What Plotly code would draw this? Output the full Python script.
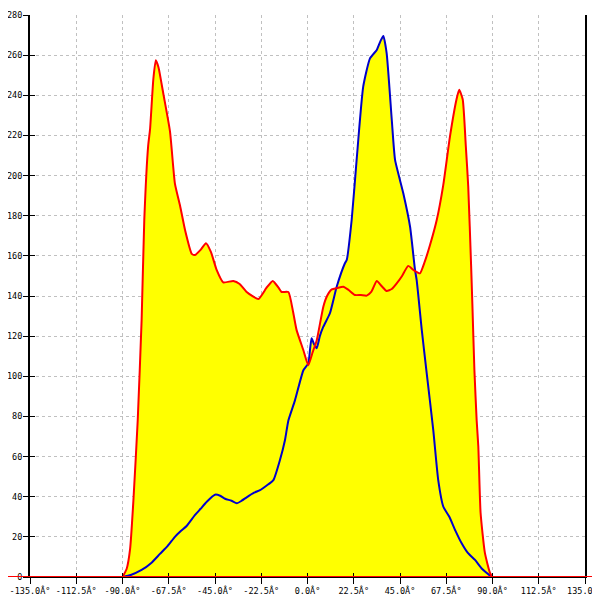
import plotly.graph_objects as go

# angle (deg) / value pairs
red_angle = [-90, -88, -86.3, -84.7, -82.6, -80.7, -79.4, -77.5, -76.6, -75, -73.8, -72.5, -70,
             -66.9, -64.5, -62, -59.6, -56.3, -54.7, -52, -49.4, -47, -44.2, -41, -36.1, -33,
             -29.6, -23.9, -20, -16.9, -14, -12.6, -9.3, -7, -5.3, -2, 0.4, 2.5, 4.5, 7.7, 9.5,
             11.8, 14.5, 17.4, 20, 23.1, 26, 28.8, 31, 33.7, 36, 38.5, 41, 43.4, 46, 49, 51.5,
             54.7, 57, 59.6, 62.9, 66, 69.3, 72.5, 73.8, 75.5, 77, 78.2, 79.6, 80.2, 81.2, 82.3,
             83.1, 84.2, 86.3, 88.8, 90]
red_vals = [0, 4, 14, 38, 78, 128, 178, 215, 223, 248, 257.5, 254, 240,
            222, 196, 185, 173, 161, 160.4, 163, 166.3, 162, 153, 146.8, 147.5, 146,
            142, 138.5, 144, 147.5, 144, 142, 142, 132, 123, 113, 105.5, 112, 118, 134.7, 140,
            143.3, 144, 144.6, 143, 140.5, 140.5, 140.2, 142, 147.5, 145, 142.5, 143.5, 146.3, 150, 155, 153,
            151.3, 157, 165.4, 178, 195, 219.4, 238, 242.7, 238, 215, 194.5, 155, 136, 103, 78,
            65, 32, 12, 2, 0]

blue_angle = [-90, -86, -80.7, -76, -71.8, -68, -64.5, -61.5, -58.8, -54.7, -52, -49, -45, -42.5,
              -40.1, -37, -34.4, -32, -29.6, -26, -23.1, -20, -16.6, -13.4, -11, -9.3, -6.1, -2,
              0.4, 1.3, 2, 3.2, 4.5, 6, 7.7, 10.9, 14.2, 18.2, 19.1, 21.5, 23.9, 27.1, 30.4, 33.7,
              35.5, 36.9, 38.5, 41, 42.6, 46.6, 49.9, 52.3, 53.1, 55.6, 58, 61.2, 63.6, 66.1, 69,
              72, 75, 78, 81.5, 85, 89.6]
blue_vals = [0, 1, 3.5, 7, 11.5, 15.5, 20, 23, 25.4, 30.9, 34, 37.5, 41, 40.5,
             39, 38, 36.7, 38, 39.7, 42, 43.3, 45.5, 48.3, 58.3, 68, 78, 88, 103,
             106.5, 114, 118.9, 116, 114, 120, 124.7, 131.4, 144.6, 156.3, 158, 178, 207.8, 244.3, 258.4, 262.6,
             267, 269.6, 261, 227.7, 207.8, 191.2, 174.5, 153, 148, 123, 101.5, 73, 48.3, 35, 30,
             23, 16.8, 12, 8.5, 4, 0]

x_ticks = [-135 + 22.5 * i for i in range(13)]
x_labels = [f"{v:.1f}Â°" for v in x_ticks]
y_ticks = list(range(0, 281, 20))

fig = go.Figure()

# yellow fills first, so both lines stay visible on top
fig.add_trace(go.Scatter(x=blue_angle, y=blue_vals, mode="none", fill="tozeroy",
                         fillcolor="#ffff00", hoverinfo="skip", showlegend=False))
fig.add_trace(go.Scatter(x=red_angle, y=red_vals, mode="none", fill="tozeroy",
                         fillcolor="#ffff00", hoverinfo="skip", showlegend=False))
fig.add_trace(go.Scatter(x=blue_angle, y=blue_vals, mode="lines", line_shape="spline",
                         line=dict(color="#0000cc", width=2, smoothing=0.5), showlegend=False))
fig.add_trace(go.Scatter(x=red_angle, y=red_vals, mode="lines", line_shape="spline",
                         line=dict(color="#ff0000", width=2, smoothing=0.5), showlegend=False))
# dummy trace so the overlay axes (inner tick halves) get drawn
fig.add_trace(go.Scatter(x=[0], y=[0], xaxis="x2", yaxis="y2", mode="markers",
                         marker=dict(opacity=0), hoverinfo="skip", showlegend=False))

# red baseline runs across the whole window
fig.add_shape(type="line", xref="paper", yref="y", x0=-30 / 555, x1=570 / 555, y0=0, y1=0,
              line=dict(color="#ff0000", width=2), layer="above")

tick_font = dict(family="DejaVu Sans Mono", size=8.5, color="black")
grid = dict(showgrid=True, gridcolor="#c0c0c0", gridwidth=1, griddash="3px,3px", zeroline=False)

# page body has an 8px margin, so the figure is 592 wide/high
fig.update_layout(
    width=592, height=592, autosize=False,
    margin=dict(l=22, r=15, t=7, b=23),
    plot_bgcolor="white", paper_bgcolor="white",
    xaxis=dict(range=[-135, 135], tickvals=x_ticks, ticktext=x_labels, tickfont=tick_font,
               tickangle=0, automargin=False, ticklabeloverflow="allow",
               ticks="outside", ticklen=6, tickcolor="black", showline=True, linecolor="black",
               linewidth=1, **grid),
    yaxis=dict(range=[0, 280], tickvals=y_ticks, tickfont=tick_font, ticks="outside", ticklen=5,
               automargin=False, ticklabelstandoff=-1, ticklabeloverflow="allow",
               tickcolor="black", showline=True, linecolor="black", linewidth=2, mirror=True,
               **grid),
    xaxis2=dict(overlaying="x", anchor="y2", range=[-135, 135], tickvals=x_ticks, ticks="inside",
                ticklen=4, tickcolor="black", showticklabels=False, showgrid=False,
                zeroline=False, showline=False),
    yaxis2=dict(overlaying="y", anchor="x2", range=[0, 280], tickvals=y_ticks, ticks="inside",
                ticklen=5, tickcolor="black", showticklabels=False, showgrid=False,
                zeroline=False, showline=False),
)

fig.write_html("out.html")
